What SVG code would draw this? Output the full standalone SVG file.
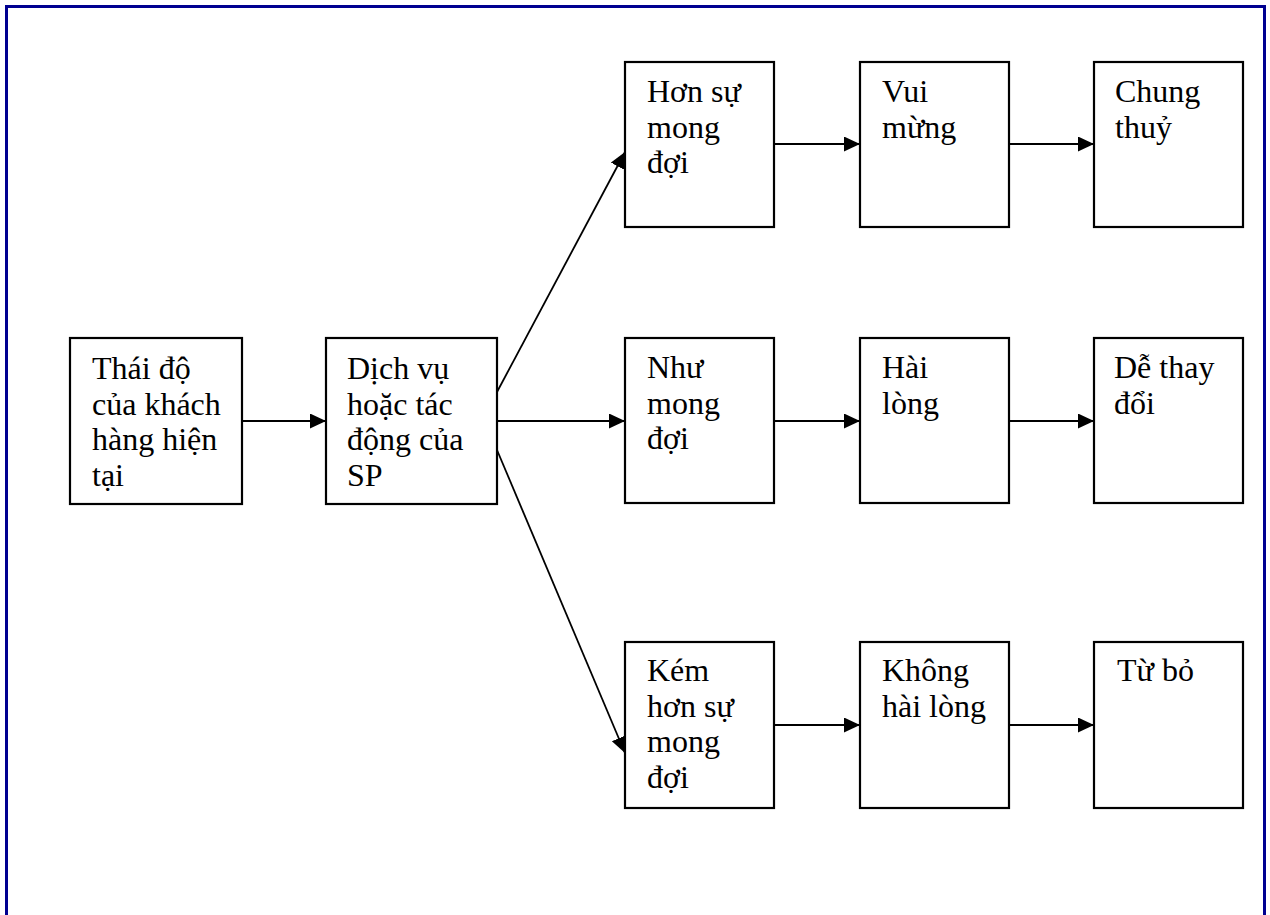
<svg xmlns="http://www.w3.org/2000/svg" width="1270" height="915" viewBox="0 0 1270 915">
  <style>
    .frame { fill: none; stroke: #000090; stroke-width: 3; }
    .box { fill: #ffffff; stroke: #000000; stroke-width: 2.2; }
    .lbl { font-family: "Liberation Serif", "Times New Roman", serif; font-size: 32px; fill: #000000; }
    .conn { stroke: #000000; stroke-width: 1.8; fill: none; marker-end: url(#arrow); }
  </style>
  <defs>
    <marker id="arrow" markerUnits="userSpaceOnUse" markerWidth="18" markerHeight="16" refX="16" refY="7.5" orient="auto">
      <path d="M0,0 L16,7.5 L0,15 z" fill="#000000"/>
    </marker>
  </defs>

  <rect width="1270" height="915" fill="#ffffff"/>
  <!-- page frame, open past the bottom edge -->
  <rect class="frame" x="6.5" y="6.5" width="1258" height="1000"/>

  <g id="connectors">
    <line class="conn" x1="242" y1="421" x2="326" y2="421"/>
    <line class="conn" x1="497" y1="392" x2="625" y2="152"/>
    <line class="conn" x1="497" y1="421" x2="625" y2="421"/>
    <line class="conn" x1="497" y1="450" x2="625" y2="753"/>
    <line class="conn" x1="774" y1="144" x2="860" y2="144"/>
    <line class="conn" x1="1009" y1="144" x2="1094" y2="144"/>
    <line class="conn" x1="774" y1="421" x2="860" y2="421"/>
    <line class="conn" x1="1009" y1="421" x2="1094" y2="421"/>
    <line class="conn" x1="774" y1="725" x2="860" y2="725"/>
    <line class="conn" x1="1009" y1="725" x2="1094" y2="725"/>
  </g>

  <g id="thai-do">
    <rect class="box" x="70" y="338" width="172" height="166"/>
    <text class="lbl" x="92" y="379">Thái độ</text>
    <text class="lbl" x="92" y="415">của khách</text>
    <text class="lbl" x="92" y="450">hàng hiện</text>
    <text class="lbl" x="92" y="486">tại</text>
  </g>

  <g id="dich-vu">
    <rect class="box" x="326" y="338" width="171" height="166"/>
    <text class="lbl" x="347" y="379">Dịch vụ</text>
    <text class="lbl" x="347" y="415">hoặc tác</text>
    <text class="lbl" x="347" y="450">động của</text>
    <text class="lbl" x="347" y="486">SP</text>
  </g>

  <g id="hon-su-mong-doi">
    <rect class="box" x="625" y="62" width="149" height="165"/>
    <text class="lbl" x="647" y="102">Hơn sự</text>
    <text class="lbl" x="647" y="138">mong</text>
    <text class="lbl" x="647" y="173">đợi</text>
  </g>

  <g id="vui-mung">
    <rect class="box" x="860" y="62" width="149" height="165"/>
    <text class="lbl" x="882" y="102">Vui</text>
    <text class="lbl" x="882" y="138">mừng</text>
  </g>

  <g id="chung-thuy">
    <rect class="box" x="1094" y="62" width="149" height="165"/>
    <text class="lbl" x="1115" y="102">Chung</text>
    <text class="lbl" x="1115" y="138">thuỷ</text>
  </g>

  <g id="nhu-mong-doi">
    <rect class="box" x="625" y="338" width="149" height="165"/>
    <text class="lbl" x="647" y="378">Như</text>
    <text class="lbl" x="647" y="414">mong</text>
    <text class="lbl" x="647" y="449">đợi</text>
  </g>

  <g id="hai-long">
    <rect class="box" x="860" y="338" width="149" height="165"/>
    <text class="lbl" x="882" y="378">Hài</text>
    <text class="lbl" x="882" y="414">lòng</text>
  </g>

  <g id="de-thay-doi">
    <rect class="box" x="1094" y="338" width="149" height="165"/>
    <text class="lbl" x="1114" y="378">Dễ thay</text>
    <text class="lbl" x="1114" y="414">đổi</text>
  </g>

  <g id="kem-hon">
    <rect class="box" x="625" y="642" width="149" height="166"/>
    <text class="lbl" x="647" y="681">Kém</text>
    <text class="lbl" x="647" y="717">hơn sự</text>
    <text class="lbl" x="647" y="752">mong</text>
    <text class="lbl" x="647" y="788">đợi</text>
  </g>

  <g id="khong-hai-long">
    <rect class="box" x="860" y="642" width="149" height="166"/>
    <text class="lbl" x="882" y="681">Không</text>
    <text class="lbl" x="882" y="717">hài lòng</text>
  </g>

  <g id="tu-bo">
    <rect class="box" x="1094" y="642" width="149" height="166"/>
    <text class="lbl" x="1117" y="681">Từ bỏ</text>
  </g>
</svg>
